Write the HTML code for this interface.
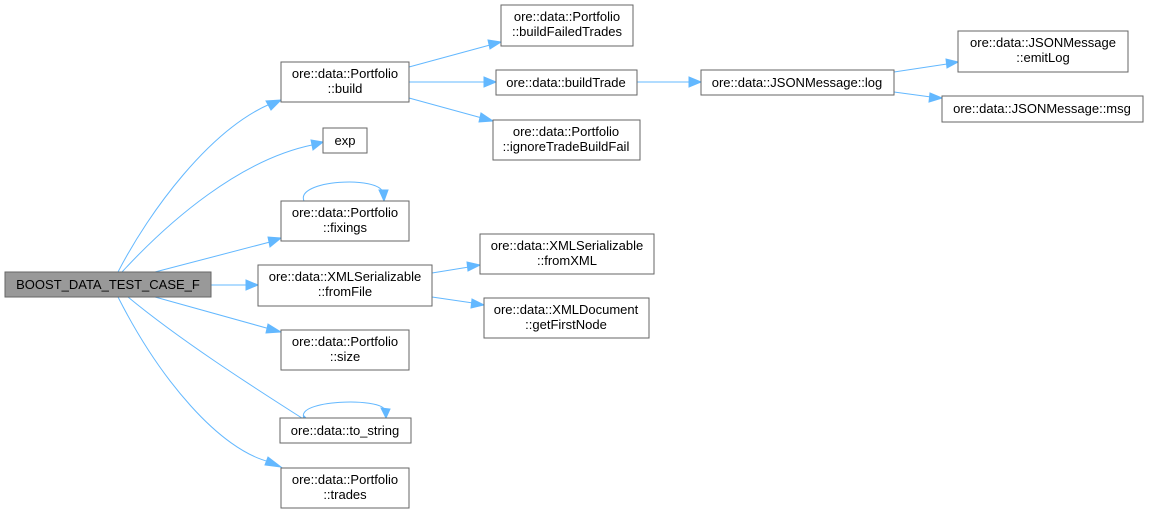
<!DOCTYPE html>
<html><head><meta charset="utf-8"><style>
html,body{margin:0;padding:0;background:#fff;}
svg{display:block;}
text{font-family:"Liberation Sans",Arial,sans-serif;font-size:13px;fill:#000;text-anchor:middle;}
.b{fill:#fff;stroke:#666;stroke-width:1;}
.e{fill:none;stroke:#63b8ff;stroke-width:1;}
.a{fill:#63b8ff;stroke:#63b8ff;}
</style></head><body>
<svg width="1149" height="513" viewBox="0 0 1149 513" xmlns="http://www.w3.org/2000/svg">
<path class="e" d="M118,272 C150,210 210,130 270,104"/><polygon class="a" points="281,100 266,101 271,110"/>
<path class="e" d="M122,272 C170,220 240,160 312,145"/><polygon class="a" points="323,142 311,140 313,150"/>
<path class="e" d="M155,272 L270,242"/><polygon class="a" points="281,238 268,237 270,247"/>
<path class="e" d="M211,285 L247,285"/><polygon class="a" points="258,285 246,280 246,290"/>
<path class="e" d="M155,297 L270,329"/><polygon class="a" points="281,332 268,324 266,333"/>
<path class="e" d="M128,297 C180,340 250,385 305,420"/><polygon class="a" points="315,427 304,416 300,424"/>
<path class="e" d="M118,297 C160,380 220,450 270,462"/><polygon class="a" points="281,467 268,457 265,465"/>
<path class="e" d="M304,201 C295,180 380,175 383,193"/><polygon class="a" points="384,201 379,190 388,190"/>
<path class="e" d="M304,418 C295,400 380,397 385,410"/><polygon class="a" points="386,418 381,408 390,409"/>
<path class="e" d="M409,67 L490,45"/><polygon class="a" points="501,42 488,40 490,49"/>
<path class="e" d="M409,82 L485,82"/><polygon class="a" points="496,82 484,77 484,87"/>
<path class="e" d="M409,98 L482,118"/><polygon class="a" points="493,121 481,113 479,122"/>
<path class="e" d="M432,273 L469,267"/><polygon class="a" points="480,265 467,262 468,271"/>
<path class="e" d="M432,297 L473,303"/><polygon class="a" points="484,305 472,299 471,308"/>
<path class="e" d="M637,82 L690,82"/><polygon class="a" points="701,82 689,77 689,87"/>
<path class="e" d="M894,72 L947,64"/><polygon class="a" points="958,62 946,59 947,68"/>
<path class="e" d="M894,92 L931,97"/><polygon class="a" points="942,98 930,93 929,102"/>
<rect x="5" y="272" width="206" height="25" fill="#999" stroke="#666"/><text x="108" y="289">BOOST_DATA_TEST_CASE_F</text>
<rect class="b" x="281" y="62" width="128" height="40"/><text x="345" y="78">ore::data::Portfolio</text><text x="345" y="93">::build</text>
<rect class="b" x="323" y="128" width="44" height="25"/><text x="345" y="145">exp</text>
<rect class="b" x="281" y="201" width="128" height="40"/><text x="345" y="217">ore::data::Portfolio</text><text x="345" y="232">::fixings</text>
<rect class="b" x="258" y="265" width="174" height="41"/><text x="345" y="281">ore::data::XMLSerializable</text><text x="345" y="296">::fromFile</text>
<rect class="b" x="281" y="330" width="128" height="40"/><text x="345" y="346">ore::data::Portfolio</text><text x="345" y="361">::size</text>
<rect class="b" x="280" y="418" width="131" height="25"/><text x="345" y="435">ore::data::to_string</text>
<rect class="b" x="281" y="468" width="128" height="40"/><text x="345" y="484">ore::data::Portfolio</text><text x="345" y="499">::trades</text>
<rect class="b" x="501" y="5" width="132" height="41"/><text x="567" y="21">ore::data::Portfolio</text><text x="567" y="36">::buildFailedTrades</text>
<rect class="b" x="496" y="70" width="141" height="25"/><text x="566" y="87">ore::data::buildTrade</text>
<rect class="b" x="493" y="120" width="147" height="40"/><text x="566" y="136">ore::data::Portfolio</text><text x="566" y="151">::ignoreTradeBuildFail</text>
<rect class="b" x="480" y="234" width="174" height="40"/><text x="567" y="250">ore::data::XMLSerializable</text><text x="567" y="265">::fromXML</text>
<rect class="b" x="484" y="298" width="165" height="40"/><text x="566" y="314">ore::data::XMLDocument</text><text x="566" y="329">::getFirstNode</text>
<rect class="b" x="701" y="70" width="193" height="25"/><text x="797" y="87">ore::data::JSONMessage::log</text>
<rect class="b" x="958" y="31" width="170" height="41"/><text x="1043" y="47">ore::data::JSONMessage</text><text x="1043" y="62">::emitLog</text>
<rect class="b" x="942" y="96" width="201" height="26"/><text x="1042" y="113">ore::data::JSONMessage::msg</text>
</svg>
</body></html>
